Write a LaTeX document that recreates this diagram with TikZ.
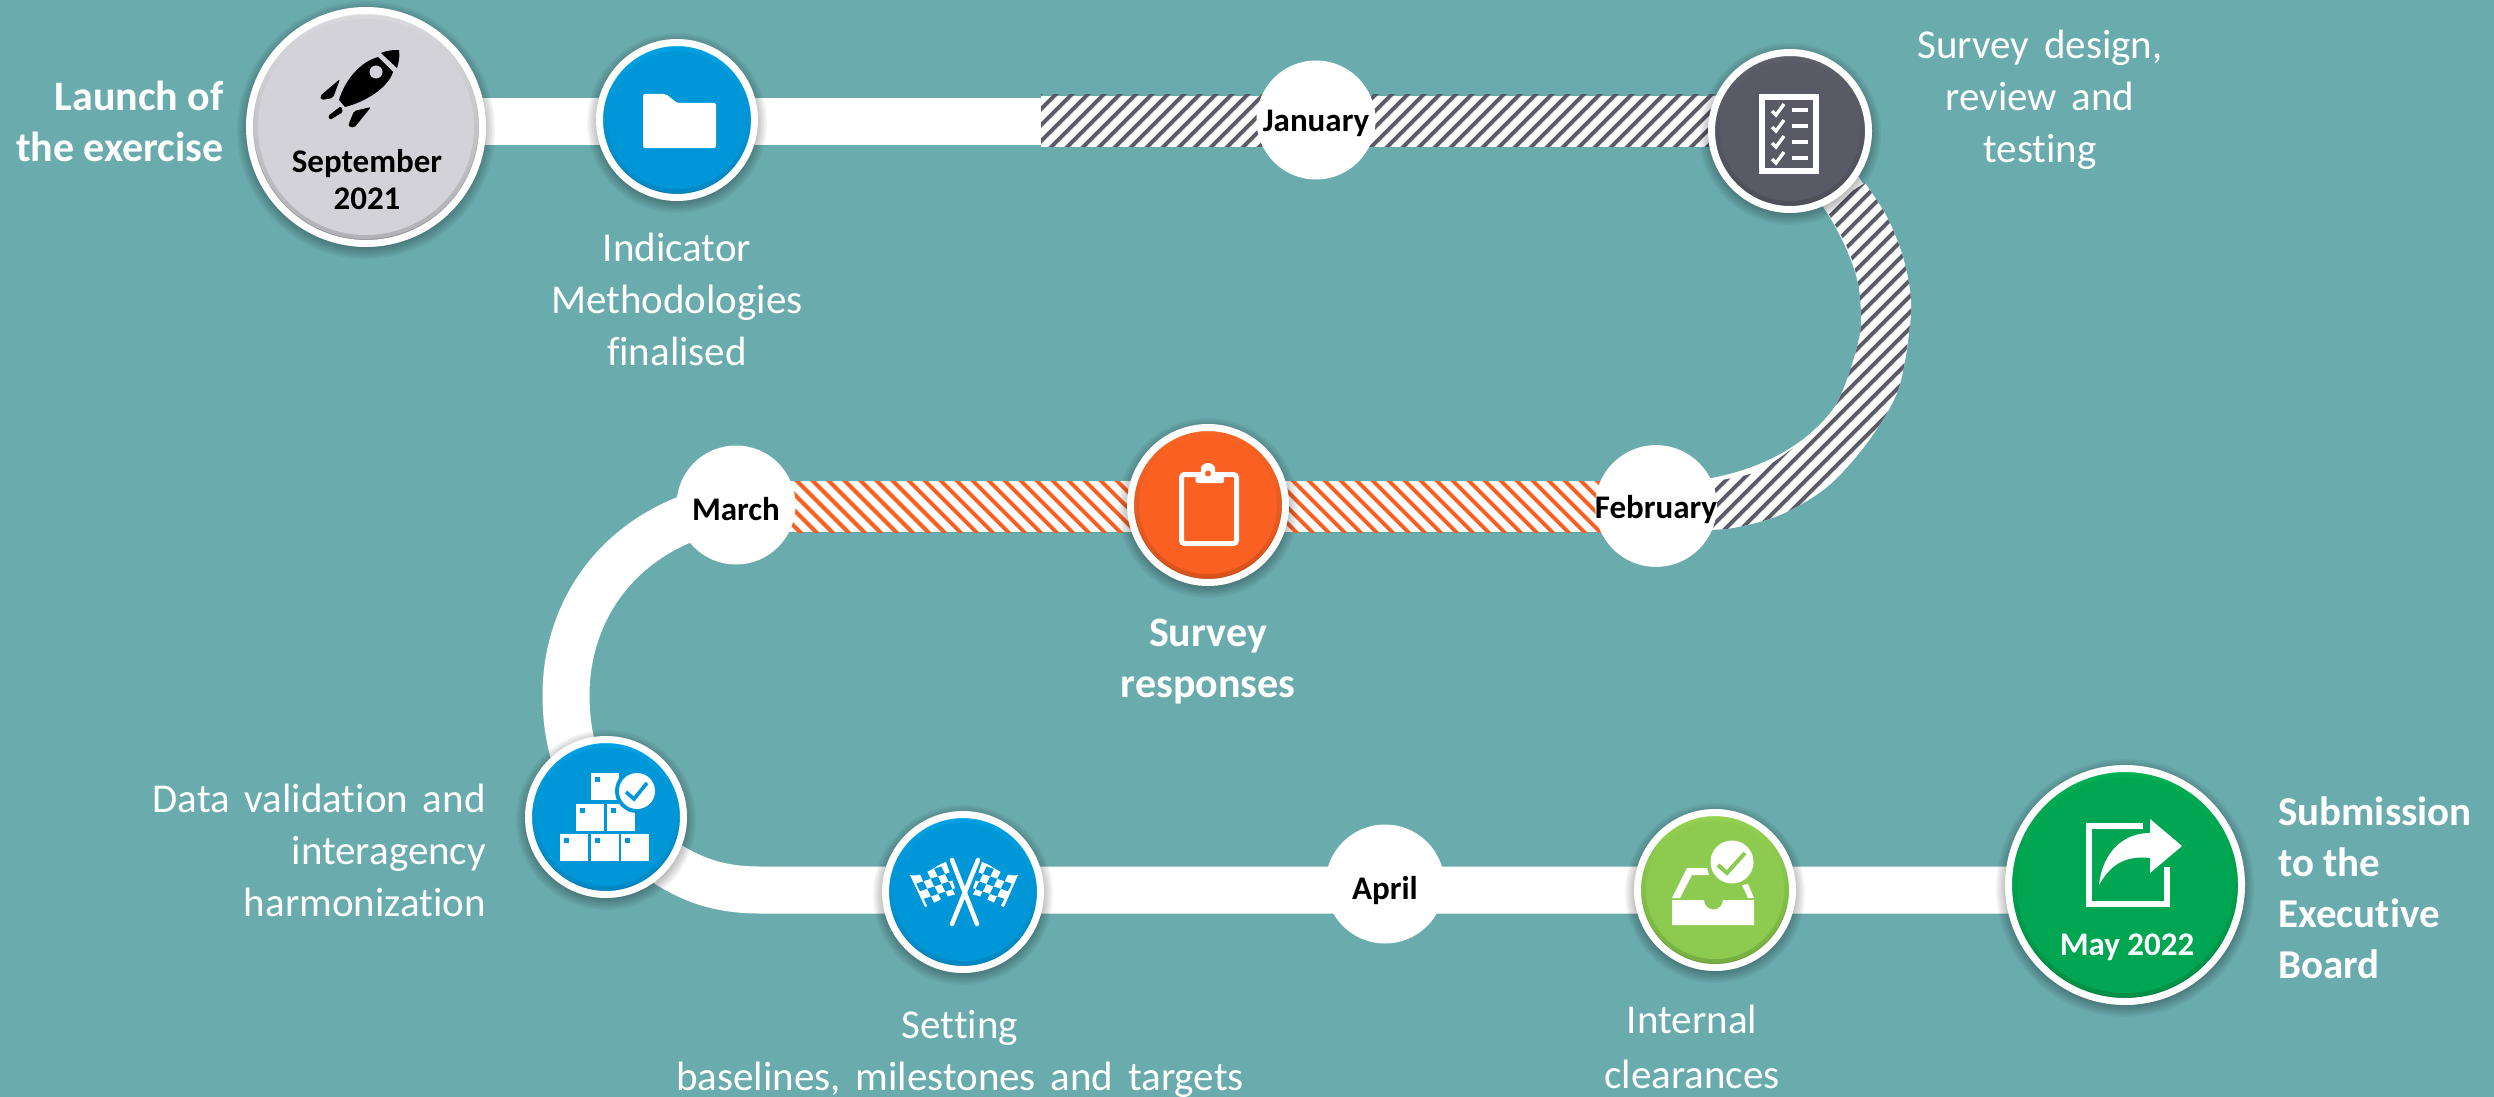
\documentclass[tikz,border=0pt]{standalone}
\usepackage{fontspec}
\setmainfont[Ligatures=NoCommon]{Carlito}
\newfontfamily\lab[WordSpace=1.6,Ligatures=NoCommon]{Carlito}
\pgfdeclarelayer{bandlayer}
\pgfdeclarelayer{shadowlayer}
\pgfsetlayers{bandlayer,shadowlayer,main}
\definecolor{teal}{HTML}{6AABAD}
\definecolor{gridgray}{HTML}{5A5B66}
\definecolor{orangeS}{HTML}{F96022}
\definecolor{blueM}{HTML}{0097D8}
\definecolor{blueT}{HTML}{00AAEE}
\definecolor{blueB}{HTML}{0078B0}
\definecolor{orangeT}{HTML}{FF6A28}
\definecolor{orangeB}{HTML}{B84512}
\definecolor{grayM}{HTML}{D2D2D8}
\definecolor{grayT}{HTML}{E0E0E4}
\definecolor{grayB}{HTML}{8E8E94}
\definecolor{darkM}{HTML}{595A65}
\definecolor{darkT}{HTML}{64656F}
\definecolor{darkB}{HTML}{43444C}
\definecolor{limeM}{HTML}{8DCB50}
\definecolor{limeT}{HTML}{9CD955}
\definecolor{limeB}{HTML}{5F9230}
\definecolor{greenM}{HTML}{00A651}
\definecolor{greenT}{HTML}{00B858}
\definecolor{greenB}{HTML}{007A3A}
\newcommand\softshadow[2]{%
  \begin{pgfonlayer}{shadowlayer}
    \foreach \k in {0,...,7}
      \fill[black,opacity=.04] ([yshift=-3pt]#1.center) circle ({(#2+9-\k*1.6)*1pt});
  \end{pgfonlayer}}
\newcommand\curveoutline{%
  plot[smooth,tension=.55] coordinates {(1865,183) (1887,217) (1903,257) (1911,300) (1908,340) (1897,393) (1867,443) (1827,487) (1780,515) (1733,528) (1700,530)}
  -- plot[smooth,tension=.55] coordinates {(1700,483) (1753,473) (1793,448) (1827,417) (1843,390) (1857,347) (1861,320) (1858,283) (1847,247) (1825,208)} -- cycle}
\newcommand\monthtext[2]{\raisebox{-#1pt}[0pt][0pt]{#2}}
\tikzset{
  disc/.style n args={4}{circle,inner sep=0pt,minimum size={(2*#1-7)*1pt},draw=white,line width=7pt,
    path picture={
      \shade[top color=#3,bottom color=#4] (path picture bounding box.south west) rectangle (path picture bounding box.north east);
      \fill[#2,opacity=.5] (path picture bounding box.center) circle ({(#1-8)*1pt});
      \fill[#2] (path picture bounding box.center) circle ({(#1-12)*1pt});
    }},
  monthdisc/.style={circle,fill=white,inner sep=0pt,minimum size=119pt,text=black,font=\fontsize{33}{36}\selectfont\bfseries},
  lightlabel/.style={text=white,inner sep=0pt,font=\lab\fontsize{41}{52}\selectfont},
  boldlabel/.style={text=white,inner sep=0pt,font=\fontsize{42}{51}\selectfont\bfseries},
  datelabel/.style={inner sep=0pt,align=center,font=\fontsize{33}{37}\selectfont\bfseries},
  band/.style={draw=white,line width=47pt},
  iconline/.style={draw=white,line width=6pt},
  tick/.style={draw=white,line width=3.4pt},
  box/.style={fill=white},
}
\newcommand\boxicon[2]{%
  \fill[box] (#1,#2) rectangle ++(28,27);
  \fill[blueM] ({#1+4},{#2+4}) rectangle ++(5,5);}
\begin{document}
\begin{tikzpicture}[x=1pt,y=-1pt]
\useasboundingbox (0,0) rectangle (2494,1097);
\begin{pgfonlayer}{bandlayer}
  \fill[teal] (0,0) rectangle (2494,1097);
\end{pgfonlayer}

% milestones
\node[disc={120}{grayM}{grayT}{grayB}] (launch) at (366,127) {};
\node[disc={81}{blueM}{blueT}{blueB}] (method) at (677,120) {};
\node[monthdisc] (jan) at (1316,120) {\monthtext{12}{January}};
\node[disc={82}{darkM}{darkT}{darkB}] (design) at (1790,131) {};
\node[monthdisc] (feb) at (1656,506) {\monthtext{12}{February}};
\node[disc={81}{orangeS}{orangeT}{orangeB}] (resp) at (1208,505) {};
\node[monthdisc] (mar) at (736,505) {\monthtext{15}{March}};
\node[disc={81}{blueM}{blueT}{blueB}] (valid) at (606,817) {};
\node[disc={81}{blueM}{blueT}{blueB}] (base) at (963,892) {};
\node[monthdisc] (apr) at (1385,884) {\monthtext{15}{April}};
\node[disc={81}{limeM}{limeT}{limeB}] (clear) at (1715,890) {};
\node[disc={120}{greenM}{greenT}{greenB}] (board) at (2125,885) {};
\coordinate (hatchstart) at (1041,121.5);

\softshadow{launch}{120}
\softshadow{method}{81}
\softshadow{design}{82}
\softshadow{resp}{81}
\softshadow{valid}{81}
\softshadow{base}{81}
\softshadow{clear}{81}
\softshadow{board}{120}

% connectors
\begin{pgfonlayer}{bandlayer}
  \draw[band] (launch.center |- hatchstart) -- (hatchstart);
  % January stretch: white band with grey hatching
  \draw[draw=white,line width=51pt] (hatchstart) -- (design.center |- hatchstart);
  % curve to February
  \draw[draw=white,line width=46pt] (design.center) .. controls (1850,190) and (1886,260) .. (1886,320) .. controls (1886,430) and (1790,506) .. (feb.center);
  \fill[white] \curveoutline;
  \begin{scope}
    \clip (1041,95) rectangle (1790,146);
    \foreach \c in {1134,1150,...,1950}
      \draw[gridgray,line width=3.9pt] ({\c-80},80) -- ({\c-160},160);
  \end{scope}
  \begin{scope}
    \clip \curveoutline;
    \foreach \c in {1950,1966,...,2460}
      \draw[gridgray,line width=3.9pt] ({\c-170},170) -- ({\c-540},540);
  \end{scope}
  % February to March: orange hatching
  \draw[draw=white,line width=51pt] (feb.center |- 0,506.5) -- (mar.center |- 0,506.5);
  \begin{scope}
    \clip (mar.center |- 0,481) rectangle (feb.center |- 0,532);
    \foreach \c in {204,220,...,1140}
      \draw[orangeS,line width=3.9pt] ({\c+470},470) -- ({\c+540},540);
  \end{scope}
  % March to validation, to the end
  \draw[band] (mar.center) .. controls (620,525) and (566,610) .. (566,695) .. controls (566,745) and (580,780) .. (valid.center);
  \draw[band] (valid.center) .. controls (660,860) and (690,890) .. (760,890) -- (board.center |- 0,890);
\end{pgfonlayer}

% rocket
\fill[black] (381,53) .. controls (388,50) and (394,50) .. (399,50) .. controls (400,56) and (399,62) .. (397,68) -- cycle;
\fill[black] (378,57) .. controls (360,62) and (345,80) .. (339,100) -- (345,107) .. controls (365,102) and (388,88) .. (393,72) -- cycle;
\fill[grayM] (376,72) ellipse (6.5pt and 6.5pt);
\fill[black,rounded corners=2pt] (320,96) -- (340,79) -- (333,98) -- (321,100) -- cycle;
\fill[black,rounded corners=2pt] (371,107) -- (354,111) -- (348,126) -- (354,128) -- cycle;
\fill[black,rounded corners=1.5pt] (328,116) -- (341,106) -- (343,112) -- (330,120) -- cycle;
\node[datelabel] (launchdate) at (367,180) {September\\2021};

% folder
\fill[white,rounded corners=2pt] (643,94) -- (666,94) -- (677,103) -- (716,103) -- (716,148) -- (643,148) -- cycle;

% checklist
\draw[iconline] (1762,97) rectangle (1816,171);
\foreach \yy in {110,126,142,158}{
  \draw[tick] (1772,{\yy+1}) -- (1776,{\yy+5}) -- (1784,{\yy-6});
  \fill[white] (1792,{\yy-2}) rectangle (1808,{\yy+2});
}

% clipboard
\draw[draw=white,line width=5pt,rounded corners=3pt] (1181.5,474.5) rectangle (1236.5,543.5);
\fill[white,rounded corners=2pt] (1195.5,483) -- (1195.5,473) -- (1201,473) -- (1201,470) arc[start angle=180,end angle=0,radius=7pt] -- (1215,473) -- (1224,473) -- (1224,483) -- cycle;
\fill[orangeS] (1208,473.5) circle (3pt);

% boxes
\boxicon{560}{834}\boxicon{591}{834}\boxicon{621}{834}
\boxicon{576}{804}\boxicon{607}{804}
\boxicon{591}{773}
\fill[blueM] (637,791) circle (22pt);
\fill[white] (637,791) circle (18pt);
\draw[draw=blueM,line width=3.6pt] (626,792) -- (634,799) -- (647,783);

% flags
\fill[white] (910,875) .. controls (925,878) and (935,865) .. (946,862) -- (957,894) .. controls (945,896) and (935,903) .. (925,907) -- cycle;
\fill[white] (1018,875) .. controls (1003,878) and (993,865) .. (982,862) -- (971,894) .. controls (983,896) and (993,903) .. (1004,907) -- cycle;
\foreach \i in {0,...,4}
  \foreach \j in {0,...,3}{
    \pgfmathtruncatemacro\odd{mod(\i+\j,2)}
    \ifnum\odd=1
      \fill[blueM] ({912.5+\i*7.2+\j*3.75},{876+\i*(-2.4)+\j*7.6}) -- ++(7.2,-2.4) -- ++(3.75,7.6) -- ++(-7.2,2.4) -- cycle;
      \fill[blueM] ({1015.5-\i*7.2-\j*3.75},{876+\i*(-2.4)+\j*7.6}) -- ++(-7.2,-2.4) -- ++(-3.75,7.6) -- ++(7.2,2.4) -- cycle;
    \fi
  }
\draw[draw=blueM,line width=7pt] (952,859) -- (977,925) (978,859) -- (952,925);
\draw[draw=white,line width=4.5pt,line cap=round] (952,860) -- (977,924) (978,860) -- (952,924);

% inbox
\fill[white] (1672,900) -- (1704,900) arc[start angle=180,end angle=360,radius=9.5pt] -- (1754,900) -- (1754,925) -- (1672,925) -- cycle;
\fill[white] (1672,898) -- (1687,868) -- (1707,868) -- (1709,875) -- (1692,875) -- (1680,898) -- cycle;
\fill[white] (1742,885) -- (1748,884) -- (1754,898) -- (1748,898) -- cycle;
\fill[limeM] (1732,862) circle (25pt);
\fill[white] (1732,862) circle (21.5pt);
\draw[draw=limeM,line width=4pt] (1718,865) -- (1727,873) -- (1745,853);

% share
\draw[draw=white,line width=6pt] (2143,826) -- (2089,826) -- (2089,904) -- (2167,904) -- (2167,867);
\fill[greenM] (2148,815) -- (2190,845) -- (2148,878) -- cycle;
\draw[draw=white,line width=6pt] (2167,904) -- (2167,868);
\fill[white] (2099,885) .. controls (2103,850) and (2125,833) .. (2150,833) -- (2150,819) -- (2182,846) -- (2150,873) -- (2150,858) .. controls (2125,855) and (2110,865) .. cycle;
\node[datelabel,text=white] (boarddate) at (2127,947) {May 2022};

% labels
\node[boldlabel,align=right,anchor=east] (l1) at (224,121) {Launch of\\the exercise};
\node[lightlabel,align=center] (l2) at (677,299) {Indicator\\Methodologies\\finalised};
\node[lightlabel,align=center] (l3) at (2040,100) {Survey design,\\review and\\testing};
\node[boldlabel,align=center] (l4) at (1208,662) {Survey\\responses};
\node[lightlabel,align=right,anchor=east] (l5) at (486,850) {Data validation and\\interagency\\harmonization};
\node[lightlabel,align=center] (l6) at (960,1054) {Setting\\baselines, milestones and targets};
\node[lightlabel,align=center] (l7) at (1692,1047) {Internal\\[3pt]clearances};
\node[boldlabel,align=left,anchor=west,font=\fontsize{41}{51}\selectfont\bfseries] (l8) at (2278,888) {Submission\\to the\\Executive\\Board};
\end{tikzpicture}
\end{document}
